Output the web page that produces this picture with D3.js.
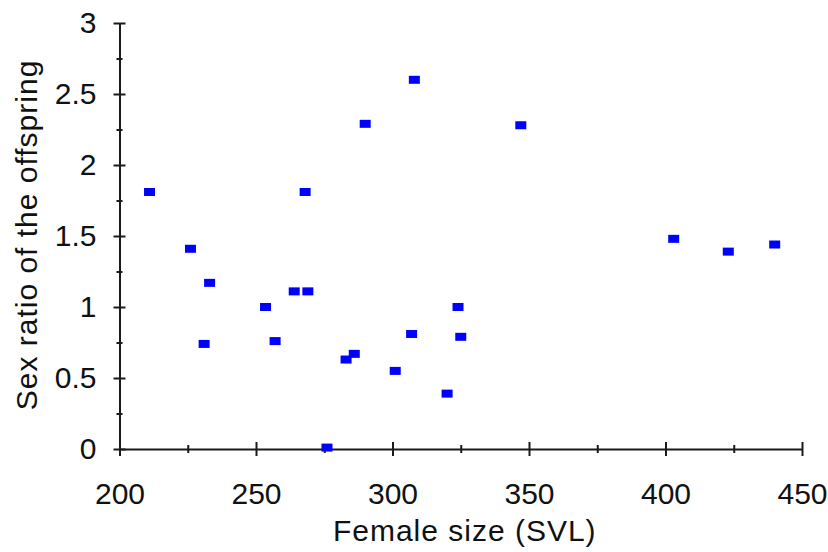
<!DOCTYPE html>
<html>
<head>
<meta charset="utf-8">
<script src="https://cdn.jsdelivr.net/npm/d3@7"></script>
<style>
  body { margin: 0; background: #fff; }
  text { font-family: "Liberation Sans", Arial, sans-serif; fill: #111; }
</style>
</head>
<body>
<div id="chart"></div>
<script>
/* DATA */
const femaleSize = [211, 268, 290, 226, 233, 231, 253.5, 257, 264, 269, 283, 286,
  276, 301, 308, 347, 403, 423, 440, 324, 307, 325, 320];
const sexRatio = [1.81, 1.81, 2.29, 1.41, 1.17, 0.74, 1.0, 0.76, 1.11, 1.11, 0.63, 0.67,
  0.01, 0.55, 2.6, 2.28, 1.48, 1.39, 1.44, 1.0, 0.81, 0.79, 0.39];
const xTicks = [200, 250, 300, 350, 400, 450];
const xMinor = [225, 275, 325, 375, 425];
const yTicks = [0, 0.5, 1, 1.5, 2, 2.5, 3];
const yMinor = [0.25, 0.75, 1.25, 1.75, 2.25, 2.75];

/* CONSTANTS */
const width = 828,
  height = 552,
  margin = { top: 23, bottom: 103, left: 119.5, right: 26 };

const svg = d3.select("#chart")
  .append("svg")
  .attr("width", width)
  .attr("height", height);

const xScale = d3.scaleLinear()
  .domain([200, 450])
  .range([margin.left, width - margin.right]);

const yScale = d3.scaleLinear()
  .domain([0, 3])
  .range([height - margin.bottom, margin.top]);

const axisColor = "#1a1a1a";

// x axis: major + minor ticks crossing the line
const xG = svg.append("g")
  .attr("class", "x-axis")
  .attr("transform", `translate(0, ${yScale(0)})`);

xG.append("g")
  .call(d3.axisBottom(xScale).tickValues(xMinor).tickFormat("").tickSize(4).tickSizeOuter(0))
  .call(g => g.select(".domain").remove())
  .call(g => g.selectAll(".tick line").attr("y1", -4).attr("stroke", axisColor).attr("stroke-width", 2));

xG.append("g")
  .call(d3.axisBottom(xScale).tickValues(xTicks).tickSize(7).tickSizeOuter(0).tickPadding(27))
  .call(g => g.select(".domain").attr("stroke", axisColor).attr("stroke-width", 2))
  .call(g => g.selectAll(".tick line").attr("y1", -7).attr("stroke", axisColor).attr("stroke-width", 2))
  .call(g => g.selectAll(".tick text").attr("font-size", 30).attr("fill", "#111")
    .attr("font-family", "Liberation Sans, Arial, sans-serif"));

// y axis
const yG = svg.append("g")
  .attr("class", "y-axis")
  .attr("transform", `translate(${xScale(200)}, 0)`);

yG.append("g")
  .call(d3.axisLeft(yScale).tickValues(yMinor).tickFormat("").tickSize(3).tickSizeOuter(0))
  .call(g => g.select(".domain").remove())
  .call(g => g.selectAll(".tick line").attr("x1", 3).attr("stroke", axisColor).attr("stroke-width", 2));

yG.append("g")
  .call(d3.axisLeft(yScale).tickValues(yTicks).tickFormat(d => d).tickSize(6).tickSizeOuter(0).tickPadding(17))
  .call(g => g.select(".domain").attr("stroke", axisColor).attr("stroke-width", 2))
  .call(g => g.selectAll(".tick line").attr("x1", 6).attr("stroke", axisColor).attr("stroke-width", 2))
  .call(g => g.selectAll(".tick text").attr("font-size", 30).attr("fill", "#111")
    .attr("font-family", "Liberation Sans, Arial, sans-serif"));

// axis titles
svg.append("text")
  .attr("x", (xScale(200) + xScale(450)) / 2 + 4)
  .attr("y", 541)
  .attr("text-anchor", "middle")
  .attr("font-size", 30)
  .attr("letter-spacing", 1)
  .text("Female size (SVL)");

svg.append("text")
  .attr("transform", `translate(37, ${235}) rotate(-90)`)
  .attr("text-anchor", "middle")
  .attr("font-size", 30)
  .attr("letter-spacing", 1)
  .text("Sex ratio of the offspring");

// points
const points = femaleSize.map((d, i) => ({ size: d, ratio: sexRatio[i] }));
const mw = 11, mh = 8;

svg.selectAll(".dot")
  .data(points)
  .join("rect")
  .attr("class", "dot")
  .attr("x", d => xScale(d.size) - mw / 2)
  .attr("y", d => yScale(d.ratio) - mh / 2)
  .attr("width", mw)
  .attr("height", mh)
  .attr("fill", "#0000ff");
</script>
</body>
</html>
